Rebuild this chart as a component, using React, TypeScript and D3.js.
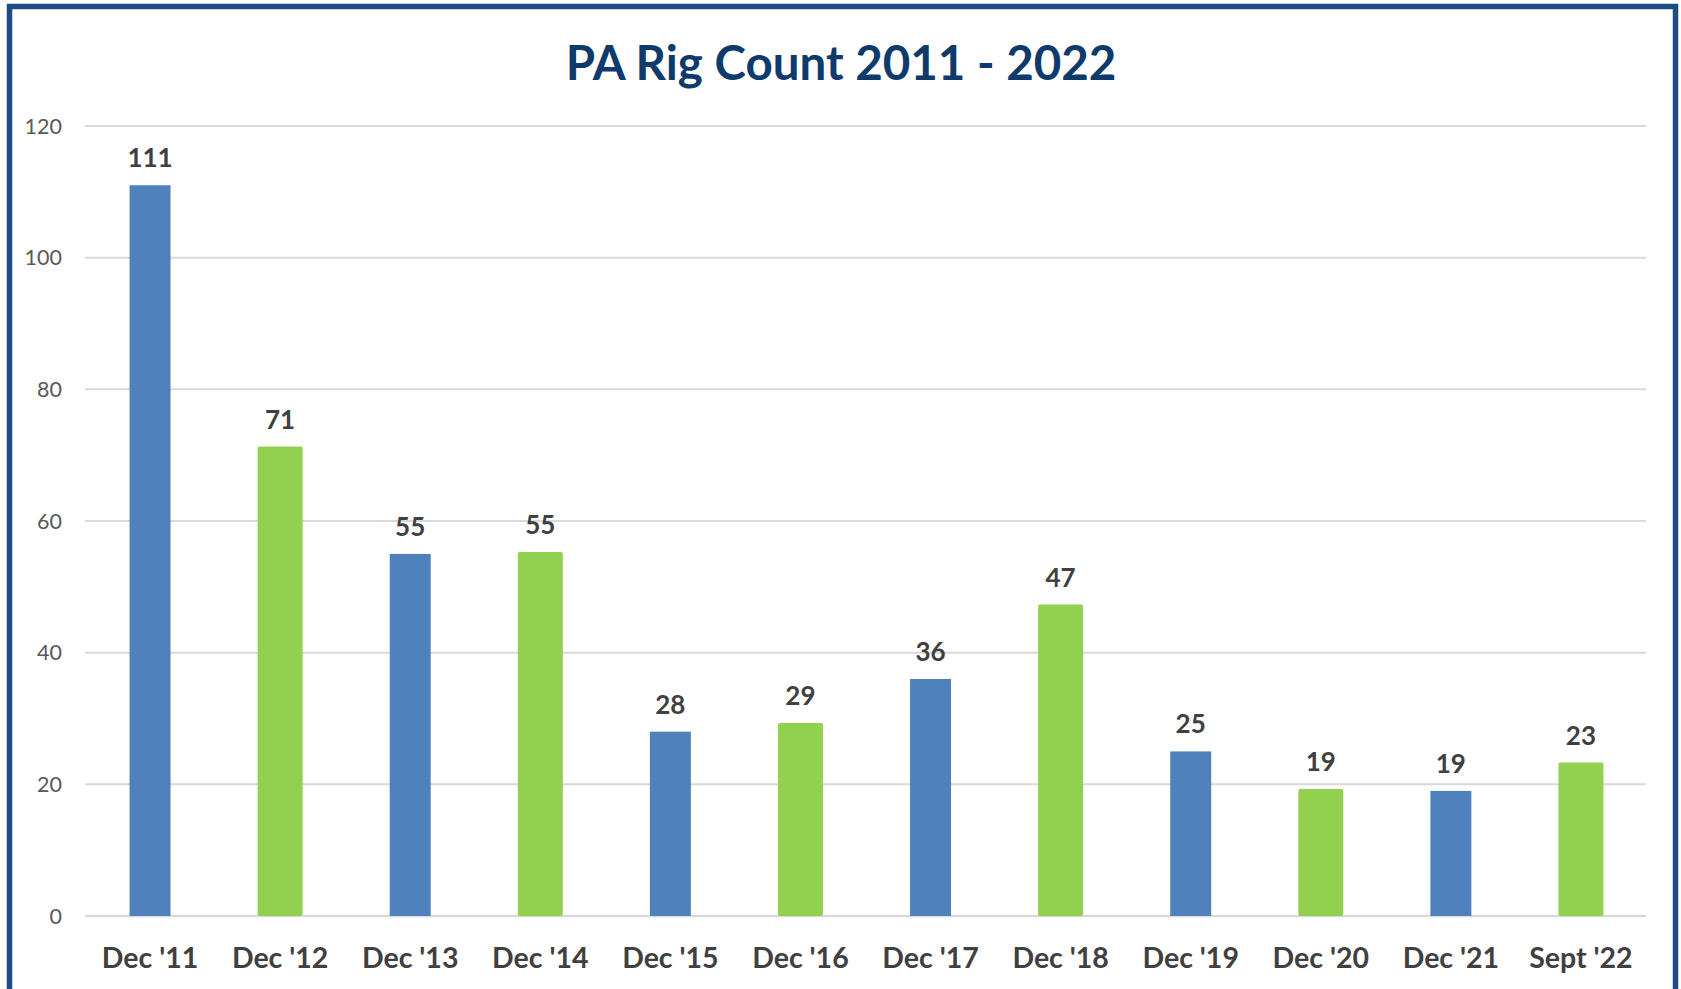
import React, { useEffect, useRef } from 'react';
import * as d3 from 'd3';

const categories = ["Dec '11", "Dec '12", "Dec '13", "Dec '14", "Dec '15", "Dec '16", "Dec '17", "Dec '18", "Dec '19", "Dec '20", "Dec '21", "Sept '22"];
const rigCounts = [111, 71, 55, 55, 28, 29, 36, 47, 25, 19, 19, 23];
const yTicks = [0, 20, 40, 60, 80, 100, 120];

const W = 1681, H = 989;
const BLUE = '#4f81bd', GREEN = '#92d050';
const FONT = 'Lato, "Open Sans", sans-serif';

export default function App() {
  const ref = useRef<SVGSVGElement>(null);

  useEffect(() => {
    const svg = d3.select(ref.current);
    svg.selectAll('*').remove();

    var margin = { left: 85, right: 35, top: 126, bottom: 73 };
    var x = d3.scaleBand().domain(categories).range([margin.left, W - margin.right]).paddingInner(0.685).paddingOuter(0.3425);
    var y = d3.scaleLinear().domain([0, 120]).range([H - margin.bottom, margin.top]);

    svg.append('rect').attr('width', W).attr('height', H).attr('fill', '#fff');

    // frame around the chart (bottom edge falls off the picture)
    svg.append('rect')
      .attr('x', 9.5).attr('y', 6.5).attr('width', 1666).attr('height', 1010)
      .attr('fill', 'none').attr('stroke', '#1f4b85').attr('stroke-width', 5.5);

    svg.append('text')
      .attr('x', 841).attr('y', 80)
      .attr('text-anchor', 'middle')
      .attr('font-family', FONT).attr('font-weight', 700).attr('font-size', 47.5)
      .attr('fill', '#0e3a6c')
      .text('PA Rig Count 2011 - 2022');

    // gridlines
    svg.append('g').selectAll('line').data(yTicks).enter().append('line')
      .attr('x1', margin.left).attr('x2', W - margin.right)
      .attr('y1', d => y(d)).attr('y2', d => y(d))
      .attr('stroke', '#d9d9d9').attr('stroke-width', d => d === 0 ? 2.5 : 2);

    svg.append('g').selectAll('text').data(yTicks).enter().append('text')
      .attr('x', 62).attr('y', d => y(d)).attr('dy', '0.36em')
      .attr('text-anchor', 'end')
      .attr('font-family', FONT).attr('font-size', 21.5).attr('fill', '#595959')
      .text(d => d);

    var data = categories.map((c, i) => ({ c, v: rigCounts[i], green: i % 2 === 1 }));
    var bw = x.bandwidth();

    svg.append('g').selectAll('rect').data(data).enter().append('rect')
      .attr('x', d => x(d.c)! + (d.green ? -2 : 0))
      .attr('width', d => d.green ? bw + 4 : bw)
      .attr('y', d => y(d.v) - (d.green ? 2 : 0))
      .attr('height', d => y(0) - y(d.v) + (d.green ? 2 : 0))
      .attr('rx', d => d.green ? 2 : 0)
      .attr('fill', d => d.green ? GREEN : BLUE);

    svg.append('g').selectAll('text').data(data).enter().append('text')
      .attr('x', d => x(d.c)! + bw / 2)
      .attr('y', d => y(d.v) - 18 - (d.green ? 2 : 0))
      .attr('text-anchor', 'middle')
      .attr('font-family', FONT).attr('font-weight', 700).attr('font-size', 26)
      .attr('fill', '#404040')
      .text(d => d.v);

    svg.append('g').selectAll('text').data(data).enter().append('text')
      .attr('x', d => x(d.c)! + bw / 2)
      .attr('y', 968)
      .attr('text-anchor', 'middle')
      .attr('font-family', FONT).attr('font-weight', 700).attr('font-size', 28.5)
      .attr('fill', '#404040')
      .text(d => d.c);
  }, []);

  return (
    <svg ref={ref} width={W} height={H} style={{ position: 'absolute', left: 0, top: 0 }} />
  );
}
